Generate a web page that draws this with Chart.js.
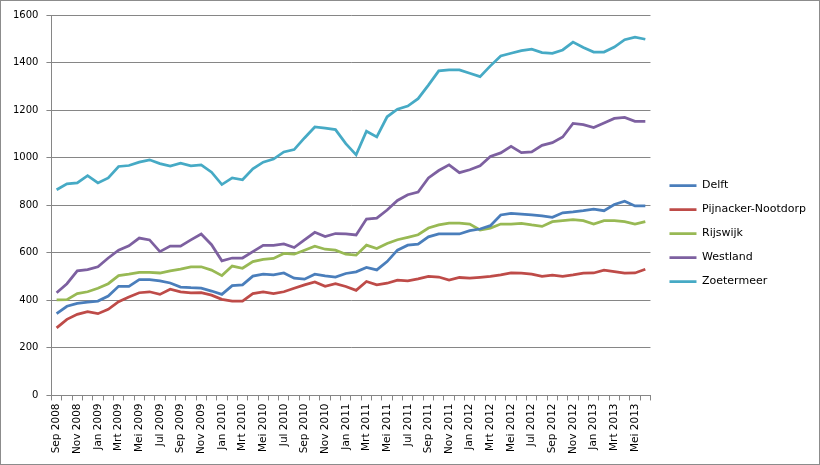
<!DOCTYPE html>
<html>
<head>
<meta charset="utf-8">
<script src="https://cdn.jsdelivr.net/npm/chart.js@4.4.1/dist/chart.umd.min.js"></script>
<style>
  html, body { margin: 0; padding: 0; background: #fff; }
  #wrap { position: relative; width: 820px; height: 465px; box-sizing: border-box; border: 1px solid #8c8c8c; }
  #chart { display: block; }
</style>
</head>
<body>
<div id="wrap"><canvas id="chart" width="818" height="463"></canvas></div>
<script>
// months Sep 2008 .. Jun 2013
const monthNames = ['Jan', 'Feb', 'Mrt', 'Apr', 'Mei', 'Jun', 'Jul', 'Aug', 'Sep', 'Okt', 'Nov', 'Dec'];
const categories = [];
for (let y = 2008, m = 8; y < 2013 || m <= 5; m++) {
    if (m > 11) { m = 0; y++; }
    categories.push(monthNames[m] + ' ' + y);
}

const delft = [344, 375, 387, 392, 397, 418, 459, 459, 487, 487, 482, 473, 456, 453, 451, 439, 425, 462, 465, 502,
    510, 507, 515, 493, 489, 510, 503, 498, 513, 520, 538, 528, 563, 611, 632, 636, 667, 679, 679, 679,
    693, 700, 714, 759, 766, 763, 759, 755, 749, 768, 772, 777, 784, 777, 803, 817, 797, 797];
const pijnacker = [284, 320, 341, 352, 344, 362, 394, 414, 432, 436, 425, 447, 436, 431, 432, 422, 404, 397, 397, 428,
    435, 428, 436, 451, 465, 477, 459, 470, 458, 442, 479, 465, 472, 485, 482, 490, 501, 498, 485, 496,
    493, 497, 501, 507, 515, 514, 510, 501, 506, 501, 507, 514, 515, 527, 521, 514, 515, 531];
const rijswijk = [402, 403, 428, 436, 451, 470, 504, 510, 518, 518, 515, 524, 531, 541, 541, 527, 504, 544, 535, 563,
    572, 576, 597, 594, 611, 628, 615, 611, 594, 590, 632, 618, 639, 655, 665, 676, 704, 717, 725, 725,
    721, 696, 704, 721, 721, 724, 717, 711, 731, 735, 739, 735, 721, 735, 735, 731, 721, 731];
const westland = [432, 470, 524, 529, 541, 578, 611, 629, 662, 654, 605, 628, 628, 654, 679, 634, 566, 578, 578, 605,
    631, 631, 637, 622, 654, 686, 668, 681, 679, 675, 742, 746, 780, 820, 844, 855, 915, 946, 970, 937,
    949, 966, 1005, 1020, 1048, 1021, 1024, 1052, 1063, 1087, 1144, 1139, 1127, 1146, 1165, 1169, 1153, 1153];
const zoetermeer = [865, 890, 894, 924, 894, 915, 963, 967, 981, 991, 975, 965, 977, 966, 970, 939, 887, 915, 907, 953,
    981, 994, 1024, 1034, 1083, 1129, 1124, 1118, 1059, 1012, 1111, 1087, 1172, 1204, 1217, 1248, 1305, 1365, 1369, 1369,
    1355, 1341, 1386, 1428, 1439, 1450, 1456, 1442, 1439, 1453, 1486, 1463, 1444, 1444, 1465, 1496, 1507, 1498];

const seriesNames = ['Delft', 'Pijnacker-Nootdorp', 'Rijswijk', 'Westland', 'Zoetermeer'];
const seriesData = [delft, pijnacker, rijswijk, westland, zoetermeer];
const seriesColors = ['#4a7ebb', '#be4b48', '#98b954', '#7d60a0', '#46aac5'];

const yMin = 0, yMax = 1600, yStep = 200;
const gridColor = '#868686';
const fontFamily = '"DejaVu Sans", Verdana, sans-serif';

const datasets = seriesNames.map((name, i) => ({
    label: name,
    data: seriesData[i],
    borderColor: seriesColors[i],
    backgroundColor: seriesColors[i],
    borderWidth: 2.75,
    pointRadius: 0,
    tension: 0,
    fill: false
}));

// push the legend a bit away from the plot area
const legendShift = {
    id: 'legendShift',
    afterLayout(chart) {
        chart.legend.left += 6;
        chart.legend.right += 6;
        chart.legend.top -= 2;
        chart.legend.bottom -= 2;
    }
};

new Chart(document.getElementById('chart'), {
    type: 'line',
    data: { labels: categories, datasets: datasets },
    plugins: [legendShift],
    options: {
        responsive: false,
        animation: false,
        layout: { padding: { left: 4, top: 13, right: 9, bottom: 7 } },
        plugins: {
            tooltip: { enabled: false },
            legend: {
                position: 'right',
                labels: {
                    usePointStyle: true,
                    pointStyle: 'line',
                    pointStyleWidth: 27,
                    boxHeight: 3,
                    padding: 13,
                    color: '#000',
                    font: { family: fontFamily, size: 11 }
                }
            }
        },
        scales: {
            x: {
                offset: true,
                grid: { offset: true, drawOnChartArea: false, tickLength: 5, color: gridColor },
                border: { color: gridColor },
                ticks: {
                    autoSkip: false,
                    minRotation: 90,
                    maxRotation: 90,
                    padding: 3,
                    color: '#000',
                    font: { family: fontFamily, size: 10.5 },
                    callback: function (v, i) { return i % 2 === 0 ? this.getLabelForValue(v) : ''; }
                }
            },
            y: {
                min: yMin,
                max: yMax,
                ticks: {
                    stepSize: yStep,
                    padding: 8,
                    color: '#000',
                    font: { family: fontFamily, size: 10 },
                    callback: v => String(v)
                },
                grid: { color: gridColor, tickLength: 5 },
                border: { color: gridColor }
            }
        }
    }
});
</script>
</body>
</html>
